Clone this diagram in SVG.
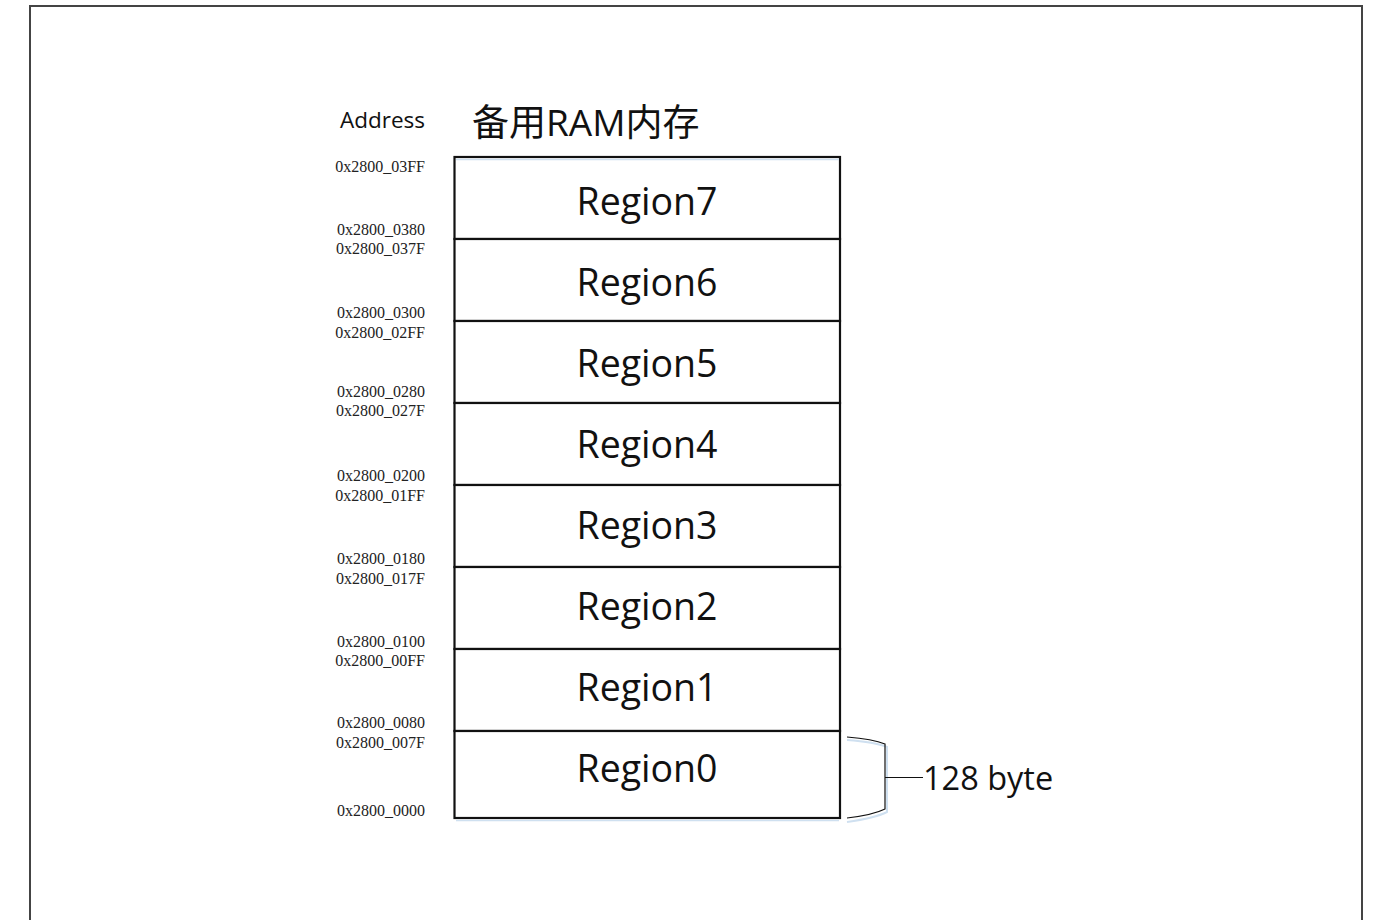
<svg xmlns="http://www.w3.org/2000/svg" width="1373" height="920" viewBox="0 0 1373 920">
<style>
.addr{font-family:"Liberation Serif","Times New Roman",serif;font-size:16px;fill:#222;text-anchor:end}
.reg{font-family:"Open Sans","Liberation Sans",sans-serif;font-size:37.5px;fill:#111;text-anchor:middle}
.cell{fill:#fff;stroke:#111;stroke-width:2.2}
</style>
<rect x="0" y="0" width="1373" height="920" fill="#fff"/>
<path d="M30,920 V6 H1362 V920" fill="none" stroke="#444" stroke-width="2"/>
<text x="425" y="128" font-family="'Open Sans','Liberation Sans',sans-serif" font-size="22.5" fill="#111" text-anchor="end">Address</text>
<text x="472" y="136" font-family="'Open Sans','Liberation Sans','Noto Sans CJK SC',sans-serif" font-size="37" fill="#111">备用RAM内存</text>
<g id="regions">
<g id="region7"><rect class="cell" x="454.5" y="157" width="385.5" height="82"/><text class="reg" x="647" y="215">Region7</text></g>
<g id="region6"><rect class="cell" x="454.5" y="239" width="385.5" height="82"/><text class="reg" x="647" y="296">Region6</text></g>
<g id="region5"><rect class="cell" x="454.5" y="321" width="385.5" height="82"/><text class="reg" x="647" y="377">Region5</text></g>
<g id="region4"><rect class="cell" x="454.5" y="403" width="385.5" height="82"/><text class="reg" x="647" y="458">Region4</text></g>
<g id="region3"><rect class="cell" x="454.5" y="485" width="385.5" height="82"/><text class="reg" x="647" y="539">Region3</text></g>
<g id="region2"><rect class="cell" x="454.5" y="567" width="385.5" height="82"/><text class="reg" x="647" y="620">Region2</text></g>
<g id="region1"><rect class="cell" x="454.5" y="649" width="385.5" height="82"/><text class="reg" x="647" y="701">Region1</text></g>
<g id="region0"><rect class="cell" x="454.5" y="731" width="385.5" height="87"/><text class="reg" x="647" y="782">Region0</text></g>
</g>
<line x1="456" y1="159.5" x2="839" y2="159.5" stroke="#cfe0f0" stroke-width="1.5"/>
<line x1="456" y1="820.5" x2="839" y2="820.5" stroke="#cfe0f0" stroke-width="1.5"/>
<g id="addresses">
<text class="addr" x="425" y="172">0x2800_03FF</text>
<text class="addr" x="425" y="235">0x2800_0380</text>
<text class="addr" x="425" y="254">0x2800_037F</text>
<text class="addr" x="425" y="318">0x2800_0300</text>
<text class="addr" x="425" y="338">0x2800_02FF</text>
<text class="addr" x="425" y="397">0x2800_0280</text>
<text class="addr" x="425" y="416">0x2800_027F</text>
<text class="addr" x="425" y="481">0x2800_0200</text>
<text class="addr" x="425" y="501">0x2800_01FF</text>
<text class="addr" x="425" y="564">0x2800_0180</text>
<text class="addr" x="425" y="584">0x2800_017F</text>
<text class="addr" x="425" y="647">0x2800_0100</text>
<text class="addr" x="425" y="666">0x2800_00FF</text>
<text class="addr" x="425" y="728">0x2800_0080</text>
<text class="addr" x="425" y="748">0x2800_007F</text>
<text class="addr" x="425" y="816">0x2800_0000</text>
</g>
<g id="connectors">
<path d="M847,740 Q875,742 887,747 V812 Q875,818 847,822" fill="none" stroke="#cfe0f0" stroke-width="2"/>
<path d="M847,737 Q873,739 885,744 V809 Q873,815 847,818" fill="none" stroke="#111" stroke-width="1.2"/>
<line x1="885" y1="777.5" x2="923" y2="777.5" stroke="#111" stroke-width="1.2"/>
</g>
<g id="label128">
<text x="923" y="790" font-family="'Open Sans','Liberation Sans',sans-serif" font-size="32.5" fill="#111">128 byte</text>
</g>
</svg>
